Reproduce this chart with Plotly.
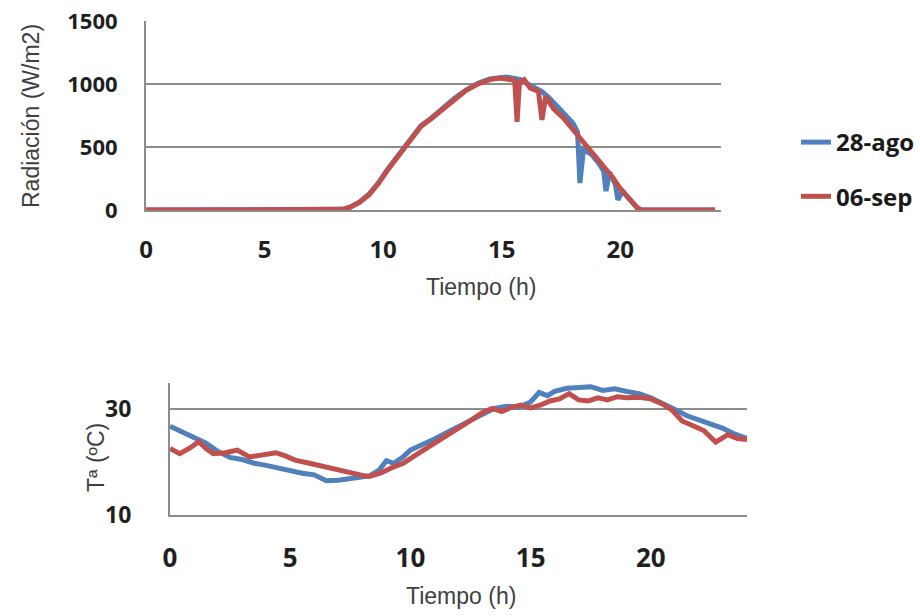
import plotly.graph_objects as go

# ---------------- data ----------------
series_names = ["28-ago", "06-sep"]

# Radiation (W/m2) vs time (h)
rad_ago_h = [0, 8.0, 8.3, 8.6, 9.0, 9.4, 9.8, 10.2, 10.6, 11.0, 11.4, 11.6, 12.0, 12.5, 13.0,
             13.5, 14.0, 14.5, 14.9, 15.2, 15.5, 15.8, 16.1, 16.4, 16.7, 17.0, 17.3, 17.6,
             18.0, 18.2, 18.3, 18.45, 18.8, 19.1, 19.3, 19.4, 19.55, 19.8, 19.9, 20.1, 20.5,
             20.8, 24.0]
rad_ago = [0, 0, 5, 22, 62, 125, 215, 325, 425, 515, 615, 670, 725, 805, 885,
           952, 1005, 1040, 1052, 1055, 1045, 1035, 1000, 975, 940, 890, 830, 770,
           690, 620, 214, 480, 440, 370, 310, 150, 300, 200, 80, 150, 60,
           0, 0]

rad_sep_h = [0, 8.0, 8.3, 8.6, 9.0, 9.4, 9.8, 10.2, 10.6, 11.0, 11.4, 11.6, 12.0, 12.5, 13.0,
             13.5, 14.0, 14.5, 14.9, 15.3, 15.55, 15.65, 15.75, 15.95, 16.2, 16.55, 16.7,
             16.85, 17.2, 17.6, 18.0, 18.3, 18.7, 19.1, 19.4, 19.7, 20.0, 20.4, 20.7, 20.9,
             24.0]
rad_sep = [0, 0, 5, 20, 60, 120, 210, 320, 420, 510, 610, 665, 720, 800, 880,
           950, 1000, 1035, 1048, 1040, 1030, 700, 1010, 1035, 968, 940, 715,
           900, 800, 730, 640, 571, 480, 380, 320, 254, 170, 80, 20, 0,
           0]

# Temperature (ºC) vs time (h)
t_ago_h = [0.0, 0.5, 1.0, 1.5, 2.0, 2.5, 3.0, 3.5, 4.0, 4.5, 5.0, 5.5, 6.0, 6.5, 7.0, 7.5,
           8.0, 8.3, 8.7, 9.0, 9.3, 9.7, 10.0, 10.5, 11.0, 11.5, 12.0, 12.5, 13.0, 13.5,
           14.0, 14.5, 15.0, 15.35, 15.7, 16.0, 16.5, 17.0, 17.5, 18.0, 18.5, 19.0, 19.5,
           20.0, 20.5, 21.0, 21.5, 22.0, 22.5, 23.0, 23.5, 24.0]
t_ago = [26.8, 25.8, 24.8, 23.6, 22.0, 20.9, 20.5, 19.8, 19.4, 18.9, 18.3, 17.9, 17.6, 16.5,
         16.6, 17.0, 17.2, 17.4, 18.5, 20.3, 19.8, 21.0, 22.3, 23.3, 24.4, 25.6, 26.8, 28.0,
         29.2, 30.2, 30.6, 30.4, 31.4, 33.2, 32.6, 33.4, 34.0, 34.1, 34.3, 33.6, 33.9, 33.4,
         33.0, 32.2, 31.2, 30.0, 28.8, 27.9, 27.2, 26.4, 25.3, 24.5]

t_sep_h = [0.0, 0.4, 0.8, 1.2, 1.5, 1.8, 2.3, 2.8, 3.3, 3.8, 4.4, 4.8, 5.2, 5.8, 6.5, 7.0,
           7.5, 8.0, 8.3, 8.8, 9.2, 9.7, 10.2, 10.7, 11.2, 11.7, 12.2, 12.7, 13.0, 13.4,
           13.8, 14.2, 14.6, 15.0, 15.4, 15.8, 16.2, 16.6, 17.0, 17.4, 17.8, 18.2, 18.6,
           19.0, 19.5, 20.0, 20.5, 20.9, 21.3, 21.8, 22.2, 22.7, 23.2, 23.6, 24.0]
t_sep = [22.6, 21.6, 22.6, 23.9, 22.6, 21.6, 21.8, 22.3, 21.0, 21.4, 21.8, 21.2, 20.4, 19.8,
         19.0, 18.6, 18.0, 17.5, 17.3, 18.0, 18.9, 19.8, 21.3, 22.8, 24.2, 25.6, 27.0, 28.6,
         29.4, 30.2, 29.6, 30.4, 30.8, 30.3, 30.8, 31.6, 32.0, 33.0, 31.8, 31.6, 32.2, 31.8,
         32.4, 32.2, 32.3, 32.0, 31.0, 29.8, 27.8, 26.8, 26.0, 23.8, 25.2, 24.5, 24.3]

x_ticks = [0, 5, 10, 15, 20]
rad_ticks = [0, 500, 1000, 1500]
temp_ticks = [10, 30]

# ---------------- styling ----------------
W, H = 920, 616
BLUE = "#4F81BD"
RED = "#C0504D"
GRID = "#8c8c8c"
TICKFONT = "Open Sans"
TITLEFONT = "Liberation Sans, Arial, sans-serif"
LW = 5


def px_x(p):
    return p / W


def px_y(p):
    return 1 - p / H


fig = go.Figure()

fig.add_trace(go.Scatter(x=rad_ago_h, y=rad_ago, mode="lines", name=series_names[0],
                         line=dict(color=BLUE, width=LW), xaxis="x", yaxis="y",
                         legendgroup="a"))
fig.add_trace(go.Scatter(x=rad_sep_h, y=rad_sep, mode="lines", name=series_names[1],
                         line=dict(color=RED, width=LW), xaxis="x", yaxis="y",
                         legendgroup="b"))
fig.add_trace(go.Scatter(x=t_ago_h, y=t_ago, mode="lines", name=series_names[0],
                         line=dict(color=BLUE, width=LW), xaxis="x2", yaxis="y2",
                         showlegend=False, legendgroup="a"))
fig.add_trace(go.Scatter(x=t_sep_h, y=t_sep, mode="lines", name=series_names[1],
                         line=dict(color=RED, width=LW), xaxis="x2", yaxis="y2",
                         showlegend=False, legendgroup="b"))

title_font = dict(family=TITLEFONT, size=23, color="#404040")

fig.update_layout(
    width=W, height=H,
    margin=dict(l=0, r=0, t=0, b=0, autoexpand=False),
    paper_bgcolor="white", plot_bgcolor="white",
    showlegend=True,
    legend=dict(x=px_x(796), y=px_y(120), xanchor="left", yanchor="top",
                font=dict(family=TICKFONT, size=24, color="#1a1a1a", weight="bold"),
                tracegroupgap=20, bgcolor="rgba(0,0,0,0)", itemwidth=30),
    xaxis=dict(domain=[px_x(146), px_x(721)], range=[0, 24.25], tickvals=x_ticks,
               showgrid=False, zeroline=False, showline=True, linecolor=GRID, linewidth=2,
               ticks="", ticklabelstandoff=17, automargin=False,
               tickfont=dict(family=TICKFONT, size=24, color="#1f1f1f", weight="bold"),
               anchor="y"),
    yaxis=dict(domain=[px_y(210), px_y(21)], range=[0, 1500], tickvals=rad_ticks,
               showgrid=True, gridcolor=GRID, gridwidth=2, zeroline=False,
               showline=True, linecolor=GRID, linewidth=2, ticks="",
               ticklabelstandoff=22, automargin=False,
               tickfont=dict(family=TICKFONT, size=22, color="#1f1f1f", weight="bold"),
               anchor="x"),
    xaxis2=dict(domain=[px_x(170), px_x(747)], range=[0, 24], tickvals=x_ticks,
                showgrid=False, zeroline=False, showline=True, linecolor=GRID, linewidth=2,
                ticks="", ticklabelstandoff=19, automargin=False,
                tickfont=dict(family=TICKFONT, size=26, color="#1f1f1f", weight="bold"),
                anchor="y2"),
    yaxis2=dict(domain=[px_y(515), px_y(383)], range=[10, 35], tickvals=temp_ticks,
                showgrid=True, gridcolor=GRID, gridwidth=2, zeroline=False,
                showline=True, linecolor=GRID, linewidth=2, ticks="",
                ticklabelstandoff=32, automargin=False,
                tickfont=dict(family=TICKFONT, size=23, color="#1f1f1f", weight="bold"),
                anchor="x2"),
    annotations=[
        dict(text="Radiación (W/m2)", x=px_x(31), y=px_y(116), xref="paper", yref="paper",
             xanchor="center", yanchor="middle", showarrow=False, textangle=-90,
             font=title_font),
        dict(text="Tiempo (h)", x=px_x(481), y=px_y(287), xref="paper", yref="paper",
             xanchor="center", yanchor="middle", showarrow=False, font=title_font),
        dict(text="Tª (ºC)", x=px_x(96), y=px_y(458), xref="paper", yref="paper",
             xanchor="center", yanchor="middle", showarrow=False, textangle=-90,
             font=title_font),
        dict(text="Tiempo (h)", x=px_x(461), y=px_y(596), xref="paper", yref="paper",
             xanchor="center", yanchor="middle", showarrow=False, font=title_font),
    ],
)

fig.write_html("out.html")
